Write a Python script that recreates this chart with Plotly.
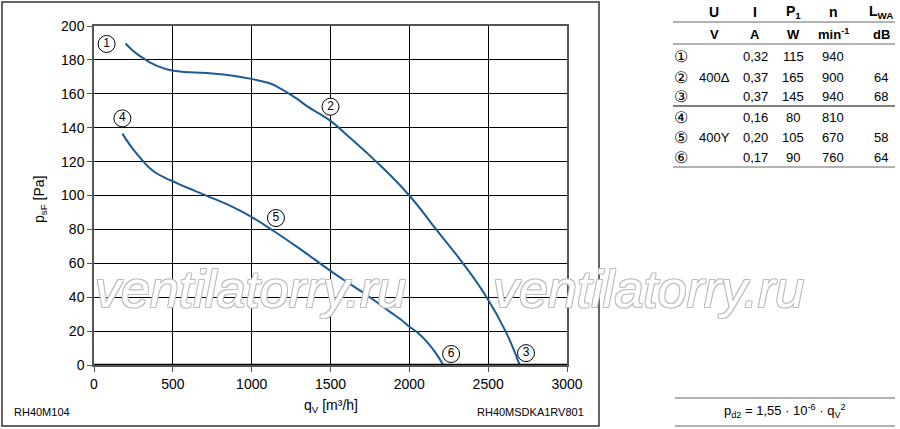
#!/usr/bin/env python3
"""
Fan curve RH40M: static pressure vs air flow, with operating data table
"""

import plotly.graph_objects as go

# Curve 1-2-3 (400V delta)
flow_delta = [200, 249, 302, 354, 397, 496, 610, 750, 882, 998, 1114, 1177, 1234, 1293, 1346,
              1500, 1620, 1790, 2000, 2170, 2340, 2490, 2610, 2700]
psf_delta = [189.7, 185.3, 181.6, 178.6, 176.6, 173.7, 172.7, 172, 170.7, 168.8, 166.2, 163.4, 160.3,
             156.7, 153, 144, 134.3, 120, 100, 80, 60, 40, 20, 0]

# Curve 4-5-6 (400V star)
flow_star = [180, 250, 314, 356, 399, 451, 500, 589, 705, 885, 1000, 1137, 1306, 1500, 1620,
             1750, 1875, 1950, 2000, 2046, 2100, 2160, 2215]
psf_star = [136.5, 127, 120, 116, 113, 110.4, 108.4, 104.7, 100.2, 93, 87.3, 79.2, 68.5, 55.5, 48,
            40, 31.5, 26.5, 22.6, 19.6, 14.8, 8, 0]

# Operating point labels on the chart
point_ids = ["1", "2", "3", "4", "5", "6"]
point_flow = [80, 1500, 2740, 180, 1154, 2265]
point_psf = [189.4, 152.4, 7, 145.5, 86.7, 6.5]

# Table
col_names = ["<b>U</b>", "<b>I</b>", "<b>P<sub>1</sub></b>", "<b>n</b>", "<b>L<sub>WA</sub></b>"]
col_units = ["<b>V</b>", "<b>A</b>", "<b>W</b>", "<b>min<sup>-1</sup></b>", "<b>dB</b>"]
row_marks = ["①", "②", "③", "④", "⑤", "⑥"]
row_voltage = ["", "400Δ", "", "", "400Y", ""]
row_current = ["0,32", "0,37", "0,37", "0,16", "0,20", "0,17"]
row_power = ["115", "165", "145", "80", "105", "90"]
row_speed = ["940", "900", "940", "810", "670", "760"]
row_noise = ["", "64", "68", "", "58", "64"]

BLUE = "#1d5a95"
FONT = "Liberation Sans, Arial, sans-serif"

# plot area in pixels (900x429 canvas)
L, R, T, B = 94, 567, 26, 365


def px(x):
    return (x - L) / (R - L)


def py(y):
    return (B - y) / (B - T)


fig = go.Figure()

for fx, fy in [(flow_delta, psf_delta), (flow_star, psf_star)]:
    fig.add_trace(go.Scatter(x=fx, y=fy, mode="lines",
                             line=dict(color=BLUE, width=2, shape="spline", smoothing=1.3,
                                       simplify=False),
                             hoverinfo="skip"))

fig.add_trace(go.Scatter(x=point_flow, y=point_psf, mode="markers+text",
                         text=point_ids, textposition="middle center",
                         textfont=dict(family=FONT, size=12, color="black"),
                         marker=dict(symbol="circle", size=17, color="white",
                                     line=dict(color="black", width=1)),
                         cliponaxis=False, hoverinfo="skip"))

fig.update_layout(
    width=900, height=429,
    margin=dict(l=L, r=900 - R, t=T, b=429 - B),
    paper_bgcolor="white", plot_bgcolor="white",
    showlegend=False,
    font=dict(family=FONT, size=14, color="black"),
    xaxis=dict(range=[0, 3000], dtick=500, showgrid=True, gridcolor="black", gridwidth=1,
               zeroline=False, showline=True, linecolor="#555", linewidth=1.5, mirror=True,
               ticks="outside", ticklen=5, tickcolor="#555", tickfont=dict(size=14)),
    yaxis=dict(range=[0, 200], dtick=20, showgrid=True, gridcolor="black", gridwidth=1,
               zeroline=False, showline=True, linecolor="#555", linewidth=1.5, mirror=True,
               ticks="outside", ticklen=5, tickcolor="#555", tickfont=dict(size=14)),
)

# thick zero line at the bottom
fig.add_shape(type="line", xref="x", yref="y", x0=0, x1=3000, y0=0, y1=0,
              line=dict(color="black", width=2.5))

# outer frame around the chart
fig.add_shape(type="rect", xref="paper", yref="paper",
              x0=px(2), x1=px(599), y0=py(426), y1=py(2),
              line=dict(color="#333", width=1.5))

annotations = []


def note(text, x, y, size=13, xanchor="center", **kw):
    annotations.append(dict(text=text, x=px(x), y=py(y), xref="paper", yref="paper",
                            showarrow=False, xanchor=xanchor, yanchor="middle",
                            font=dict(family=FONT, size=size, color="black"), **kw))


# watermark
for wx in [250, 648]:
    annotations.append(dict(text="ventilatorry.ru", x=px(wx), y=py(289), xref="paper", yref="paper",
                            showarrow=False, xanchor="center", yanchor="middle",
                            font=dict(family=FONT, size=52, color="white", style="italic",
                                      shadow="-1px -1px 0 #bdbdbd, 1px -1px 0 #bdbdbd, "
                                             "-1px 1px 0 #bdbdbd, 1px 1px 0 #bdbdbd")))

# axis titles and corner labels
note("p<sub>sF</sub> [Pa]", 40, 200, size=14, textangle=-90)
note("q<sub>V</sub> [m³/h]", 331, 406, size=14)
note("RH40M104", 12, 412, size=11, xanchor="left")
note("RH40MSDKA1RV801", 586, 412, size=11, xanchor="right")

# table
col_x = [714, 755, 793, 833, 881]
for cx, name, unit in zip(col_x, col_names, col_units):
    note(name, cx, 12, size=14)
    note(unit, cx, 34, size=13)

row_y = [57, 77, 97, 117, 137, 157]
for i, ry in enumerate(row_y):
    note(row_marks[i], 681, ry, size=16)
    note(row_voltage[i], 714, ry, size=13)
    note(row_current[i], 755, ry, size=13)
    note(row_power[i], 793, ry, size=13)
    note(row_speed[i], 833, ry, size=13)
    note(row_noise[i], 881, ry, size=13)

for ly, col, w in [(22, "#666", 1), (44, "#666", 1), (106, "black", 1.2), (167, "#666", 1)]:
    fig.add_shape(type="line", xref="paper", yref="paper",
                  x0=px(673), x1=px(895), y0=py(ly), y1=py(ly), line=dict(color=col, width=w))

# dynamic pressure formula
for ly in [398, 426]:
    fig.add_shape(type="line", xref="paper", yref="paper",
                  x0=px(675), x1=px(895), y0=py(ly), y1=py(ly), line=dict(color="#666", width=1))
note("p<sub>d2</sub> = 1,55 · 10<sup>-6</sup> · q<sub>V</sub><sup>2</sup>", 785, 411, size=13)

fig.update_layout(annotations=annotations)

fig.write_html("out.html", config={"displayModeBar": False},
               post_script="document.body.style.margin='0px';")
